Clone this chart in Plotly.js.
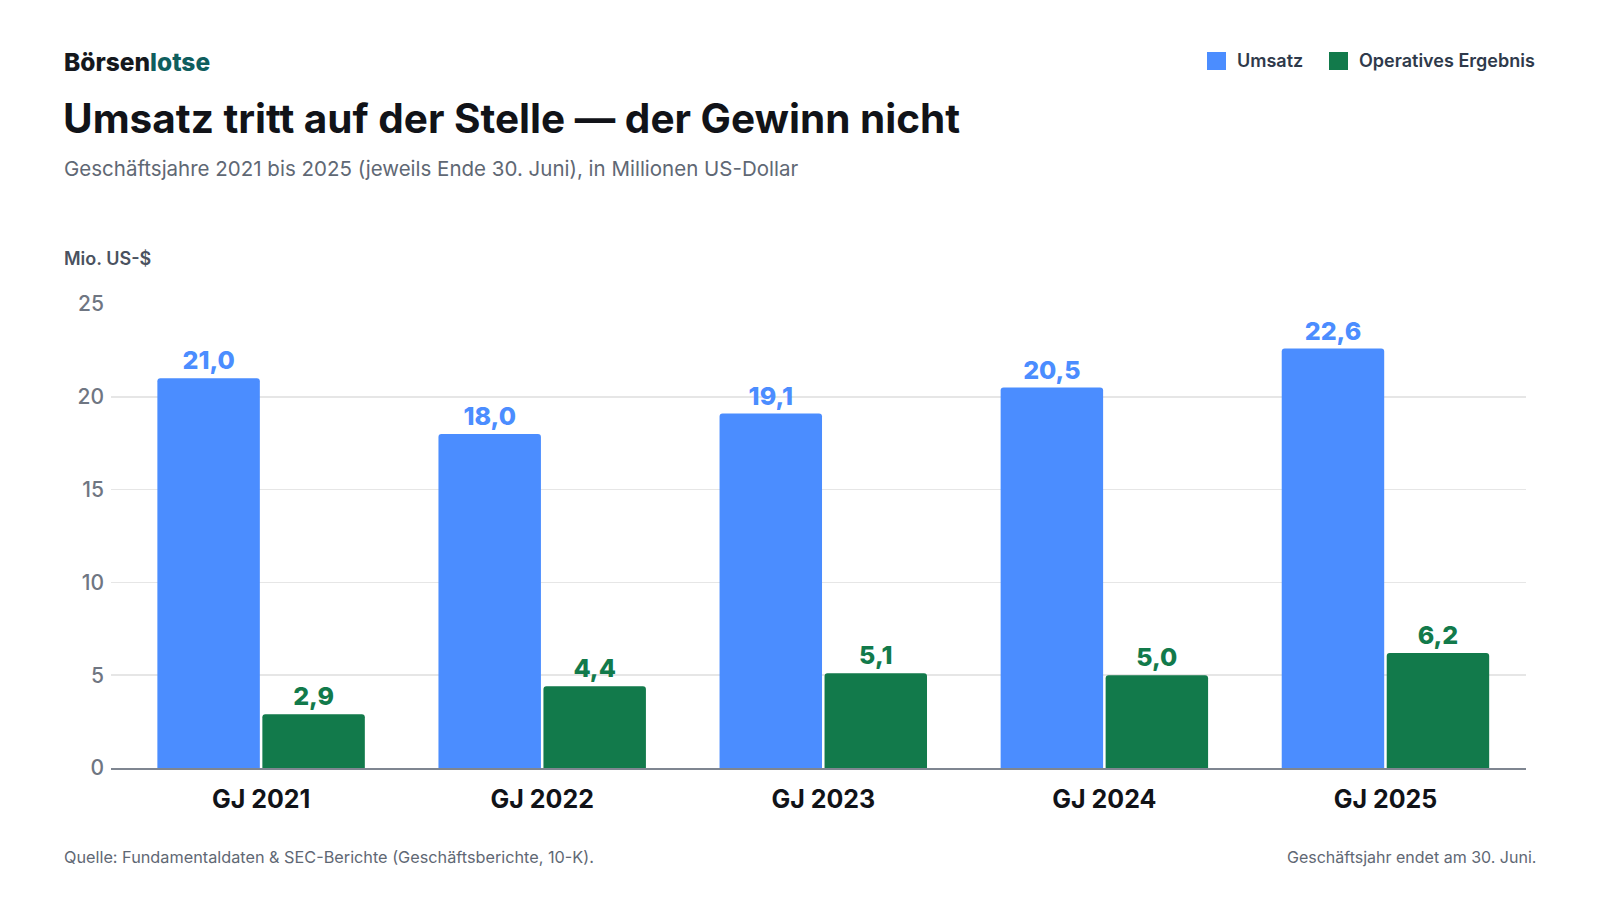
<!DOCTYPE html>
<html>
<head>
<meta charset="utf-8">
<script src="https://cdn.plot.ly/plotly-3.0.1.min.js"></script>
<style>
  html, body { margin: 0; padding: 0; background: #fff; }
  #chart { width: 1600px; height: 900px; }
</style>
</head>
<body>
<div id="chart"></div>
<script>
// Daten (Mio. US-$)
const jahre = ["GJ 2021", "GJ 2022", "GJ 2023", "GJ 2024", "GJ 2025"];
const umsatz = [21.0, 18.0, 19.1, 20.5, 22.6];
const ergebnis = [2.9, 4.4, 5.1, 5.0, 6.2];
const yTicks = [0, 5, 10, 15, 20, 25];
const serien = ["Umsatz", "Operatives Ergebnis"];

const blau = "#4b8dff";
const gruen = "#127a4b";
const schrift = "Inter, 'Noto Sans', sans-serif";

// Plotbereich in Pixeln
const L = 111, R = 74, T = 304, B = 132;
const W = 1600 - L - R, H = 900 - T - B;
const px = x => (x - L) / W;
const py = y => (900 - B - y) / H;

function balken(name, werte, farbe) {
  return {
    type: "bar",
    name: name,
    x: jahre,
    y: werte,
    marker: { color: farbe, cornerradius: 3 },
    texttemplate: "%{y:.1f}",
    textposition: "outside",
    textfont: { family: schrift, size: 25, weight: 800, color: farbe },
    cliponaxis: false,
    showlegend: false,
    hoverinfo: "skip"
  };
}

// Legende oben rechts (Quadrat + Text)
function legende(text, farbe, x0) {
  return {
    shape: {
      type: "rect", xref: "paper", yref: "paper",
      x0: px(x0), x1: px(x0 + 19), y0: py(70), y1: py(52),
      fillcolor: farbe, line: { width: 0 }
    },
    label: {
      text: text, xref: "paper", yref: "paper",
      x: px(x0 + 28), y: py(61), xanchor: "left", yanchor: "middle",
      showarrow: false,
      font: { family: schrift, size: 18, weight: 600, color: "#2f3a4b" }
    }
  };
}
const leg1 = legende(serien[0], blau, 1207);
const leg2 = legende(serien[1], gruen, 1329);

const layout = {
  width: 1600,
  height: 900,
  margin: { l: L, r: R, t: T, b: B },
  paper_bgcolor: "#ffffff",
  plot_bgcolor: "#ffffff",
  separators: ",.",
  font: { family: schrift, color: "#333" },
  barmode: "group",
  bargap: 0.253,
  bargroupgap: 0.024,
  showlegend: false,
  title: {
    text: "Umsatz tritt auf der Stelle — der Gewinn nicht",
    font: { family: schrift, size: 40.5, weight: 700, color: "#111318" },
    xref: "container", yref: "container",
    x: 63 / 1600, xanchor: "left",
    y: 1 - 119 / 900, yanchor: "middle"
  },
  xaxis: {
    type: "category",
    range: [-0.534, 4.5],
    showgrid: false,
    showline: true,
    linecolor: "#7f8691",
    linewidth: 2,
    ticks: "",
    tickfont: { family: schrift, size: 25, weight: 700, color: "#111318" },
    ticklabelstandoff: 8,
    fixedrange: true
  },
  yaxis: {
    range: [0, 25],
    tickvals: yTicks,
    showgrid: true,
    gridcolor: "#e6e6e6",
    gridwidth: 1.5,
    zeroline: false,
    showline: false,
    ticks: "",
    tickfont: { family: schrift, size: 21, weight: 500, color: "#6f7682" },
    ticklabelstandoff: 6,
    fixedrange: true
  },
  shapes: [leg1.shape, leg2.shape],
  annotations: [
    leg1.label,
    leg2.label,
    {
      text: "Börsen<span style='color:#0f5e5e'>lotse</span>",
      xref: "paper", yref: "paper",
      x: px(62), y: py(62), xanchor: "left", yanchor: "middle",
      showarrow: false,
      font: { family: schrift, size: 24.5, weight: 800, color: "#15181d" }
    },
    {
      text: "Geschäftsjahre 2021 bis 2025 (jeweils Ende 30. Juni), in Millionen US-Dollar",
      xref: "paper", yref: "paper",
      x: px(62), y: py(168), xanchor: "left", yanchor: "middle",
      showarrow: false,
      font: { family: schrift, size: 20.5, color: "#5f6874" }
    },
    {
      text: "Mio. US-$",
      xref: "paper", yref: "paper",
      x: px(62), y: py(258), xanchor: "left", yanchor: "middle",
      showarrow: false,
      font: { family: schrift, size: 18, weight: 600, color: "#4a5260" }
    },
    {
      text: "Quelle: Fundamentaldaten & SEC-Berichte (Geschäftsberichte, 10-K).",
      xref: "paper", yref: "paper",
      x: px(62), y: py(857), xanchor: "left", yanchor: "middle",
      showarrow: false,
      font: { family: schrift, size: 16.25, color: "#5f6874" }
    },
    {
      text: "Geschäftsjahr endet am 30. Juni.",
      xref: "paper", yref: "paper",
      x: px(1538), y: py(857), xanchor: "right", yanchor: "middle",
      showarrow: false,
      font: { family: schrift, size: 16, color: "#5f6874" }
    }
  ]
};

Plotly.newPlot("chart", [balken(serien[0], umsatz, blau), balken(serien[1], ergebnis, gruen)],
  layout, { displayModeBar: false, staticPlot: true });
</script>
</body>
</html>
